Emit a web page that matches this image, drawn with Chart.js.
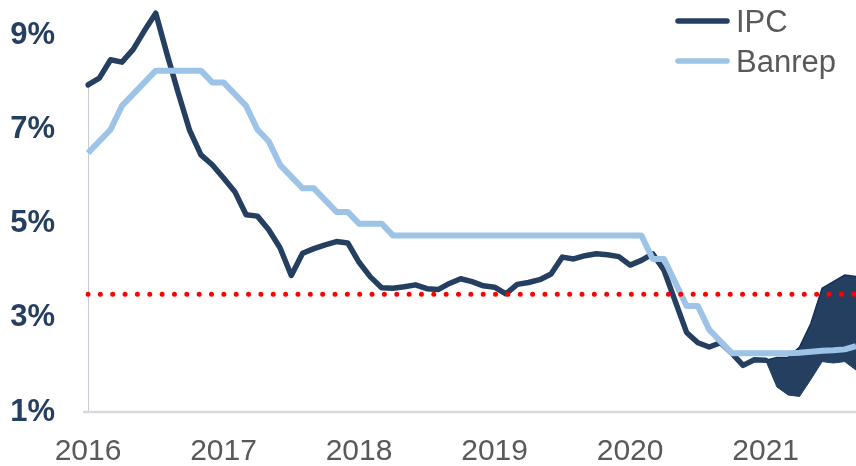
<!DOCTYPE html>
<html>
<head>
<meta charset="utf-8">
<script src="https://cdn.jsdelivr.net/npm/chart.js@4.4.0/dist/chart.umd.min.js"></script>
<style>
  body { margin: 0; background: #fff; }
</style>
</head>
<body>
<canvas id="chart" width="856" height="466"></canvas>
<script>
// meses de ene 2016 a sep 2021
const startYear = 2016;
const monthCount = 69;
const months = [];
for (let i = 0; i < monthCount; i++) {
  const y = startYear + Math.floor(i / 12);
  months.push(y + "-" + String((i % 12) + 1).padStart(2, "0"));
}

// inflación anual (%), ene 2016 - ene 2021
const ipc = [
  7.45, 7.59, 7.98, 7.93, 8.20, 8.60, 8.97, 8.10, 7.27, 6.48, 5.96, 5.75,
  5.47, 5.18, 4.69, 4.66, 4.37, 3.99, 3.40, 3.87, 3.97, 4.05, 4.12, 4.09,
  3.68, 3.37, 3.14, 3.13, 3.16, 3.20, 3.12, 3.10, 3.23, 3.33, 3.27, 3.18,
  3.15, 3.01, 3.21, 3.25, 3.31, 3.43, 3.79, 3.75, 3.82, 3.86, 3.84, 3.80,
  3.62, 3.72, 3.86, 3.51, 2.85, 2.19, 1.97, 1.88, 1.97, 1.75, 1.49, 1.61,
  1.60
];

// tasa de política monetaria (%), ene 2016 - sep 2021
const banrep = [
  6.00, 6.25, 6.50, 7.00, 7.25, 7.50, 7.75, 7.75, 7.75, 7.75, 7.75, 7.50,
  7.50, 7.25, 7.00, 6.50, 6.25, 5.75, 5.50, 5.25, 5.25, 5.00, 4.75, 4.75,
  4.50, 4.50, 4.50, 4.25, 4.25, 4.25, 4.25, 4.25, 4.25, 4.25, 4.25, 4.25,
  4.25, 4.25, 4.25, 4.25, 4.25, 4.25, 4.25, 4.25, 4.25, 4.25, 4.25, 4.25,
  4.25, 4.25, 3.75, 3.75, 3.25, 2.75, 2.75, 2.25, 2.00, 1.75, 1.75, 1.75,
  1.75, 1.75, 1.75, 1.76, 1.78, 1.80, 1.81, 1.83, 1.90
];

// rango de pronóstico, ene 2021 - sep 2021
const bandStart = 60;
const bandUpper = [1.60, 1.66, 1.66, 1.88, 2.38, 3.13, 3.27, 3.41, 3.38];
const bandLower = [1.60, 1.03, 0.86, 0.83, 1.19, 1.57, 1.54, 1.57, 1.39];

const inflationTarget = 3;

const yTickValues = [0.5, 2.5, 4.5, 6.5, 8.5];
const yTickLabels = ["1%", "3%", "5%", "7%", "9%"];

const navy = "#243F60";
const lightBlue = "#9DC3E6";
const grayText = "#595959";
const fontFamily = "'Liberation Sans', Arial, sans-serif";

function padBand(values) {
  return new Array(bandStart).fill(null).concat(values);
}

const frame = {
  id: "frame",
  beforeDatasetsDraw(chart) {
    const { ctx, chartArea, scales } = chart;
    ctx.save();
    ctx.strokeStyle = "#d9d9d9";
    ctx.lineWidth = 2.5;
    ctx.beginPath();
    ctx.moveTo(chartArea.left - 5, chartArea.bottom);
    ctx.lineTo(chartArea.right, chartArea.bottom);
    ctx.stroke();
    const x0 = Math.round(scales.x.getPixelForValue(0)) + 0.5;
    ctx.strokeStyle = "#c5ccd5";
    ctx.lineWidth = 1;
    ctx.beginPath();
    ctx.moveTo(x0, scales.y.getPixelForValue(ipc[0]));
    ctx.lineTo(x0, chartArea.bottom - 1);
    ctx.stroke();
    ctx.restore();
  },
  afterDraw(chart) {
    const ctx = chart.ctx;
    const items = chart.data.datasets.filter((d) => d.inLegend);
    ctx.save();
    ctx.font = "31px " + fontFamily;
    ctx.textBaseline = "alphabetic";
    items.forEach((d, i) => {
      const y = 21 + i * 40;
      ctx.strokeStyle = d.borderColor;
      ctx.lineWidth = 5.5;
      ctx.lineCap = "round";
      ctx.beginPath();
      ctx.moveTo(678, y);
      ctx.lineTo(727, y);
      ctx.stroke();
      ctx.fillStyle = grayText;
      ctx.fillText(d.label, 736, y + 11);
    });
    ctx.restore();
  }
};

new Chart(document.getElementById("chart"), {
  type: "line",
  data: {
    labels: months,
    datasets: [
      {
        label: "IPC",
        inLegend: true,
        data: ipc,
        borderColor: navy,
        borderWidth: 5.5,
        borderJoinStyle: "round",
        borderCapStyle: "round",
        pointRadius: 0,
        order: 2
      },
      {
        label: "Banrep",
        inLegend: true,
        data: banrep,
        borderColor: lightBlue,
        borderWidth: 6,
        borderJoinStyle: "round",
        pointRadius: 0,
        order: 1
      },
      {
        label: "Meta",
        data: [
          { x: months[0], y: inflationTarget },
          { x: months[monthCount - 1], y: inflationTarget }
        ],
        borderColor: "#FF0000",
        borderWidth: 5,
        borderDash: [0, 12.35],
        borderCapStyle: "round",
        pointRadius: 0,
        order: 0
      },
      {
        label: "Rango inferior",
        data: padBand(bandLower),
        borderColor: navy,
        borderWidth: 1,
        pointRadius: 0,
        fill: false,
        order: 4
      },
      {
        label: "Rango superior",
        data: padBand(bandUpper),
        borderColor: "#12305c",
        borderWidth: 1.5,
        backgroundColor: navy,
        pointRadius: 0,
        fill: "-1",
        order: 3
      }
    ]
  },
  options: {
    responsive: false,
    animation: false,
    devicePixelRatio: 1,
    layout: { padding: 0 },
    plugins: {
      legend: { display: false },
      tooltip: { enabled: false }
    },
    elements: { line: { tension: 0 } },
    scales: {
      x: {
        type: "category",
        offset: false,
        afterFit: (axis) => {
          axis.height = 54;
          axis.paddingLeft = 0;
          axis.paddingRight = 0;
        },
        grid: { display: false, drawTicks: false },
        border: { display: false },
        ticks: {
          autoSkip: false,
          maxRotation: 0,
          padding: 22,
          color: grayText,
          font: { family: fontFamily, size: 30 },
          callback: function (value) {
            const lab = this.getLabelForValue(value);
            return lab.endsWith("-01") ? lab.slice(0, 4) : "";
          }
        }
      },
      y: {
        min: 0.5,
        max: 9.25,
        afterBuildTicks: (axis) => {
          axis.ticks = yTickValues.map((v) => ({ value: v }));
        },
        afterFit: (axis) => {
          axis.width = 88;
          axis.paddingTop = 0;
          axis.paddingBottom = 0;
        },
        grid: { display: false, drawTicks: false },
        border: { display: false },
        ticks: {
          padding: 33,
          color: navy,
          font: { family: fontFamily, size: 31, weight: "bold" },
          callback: (value, i) => yTickLabels[i]
        }
      }
    }
  },
  plugins: [frame]
});
</script>
</body>
</html>
